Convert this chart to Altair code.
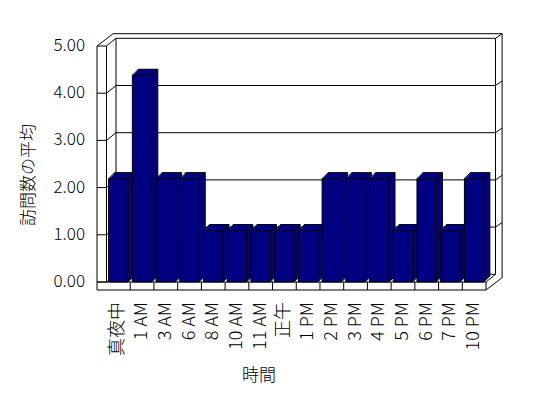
import altair as alt
import pandas as pd

# ---------------- data ----------------
categories = ["真夜中", "1 AM", "3 AM", "6 AM", "8 AM", "10 AM", "11 AM", "正午",
              "1 PM", "2 PM", "3 PM", "4 PM", "5 PM", "6 PM", "7 PM", "10 PM"]
values = [2.19, 4.38, 2.19, 2.19, 1.09, 1.09, 1.09, 1.09,
          1.09, 2.19, 2.19, 2.19, 1.09, 2.19, 1.09, 2.19]
y_ticks = [0, 1, 2, 3, 4, 5]
x_title = "時間"
y_title = "訪問数の平均"

# ---------------- layout / style ----------------
W, H = 389, 236
FONT = "Noto Sans CJK JP"
FW = 300
NAVY = "#000080"
LW = 9.5            # left wall thickness (px)
DX, DY = 9.5, -7.7  # depth: front -> back wall inner face
TX, TY = 6.6, -4.6  # back wall thickness
FT = 8              # floor thickness
BDX, BDY = 6, -6    # bar depth
HALF = 0.41         # half bar width in slot units
FR = W
RI = FR + DX
RO = RI + TX

step = (W - LW) / len(categories)
x_lo = -LW / step - 0.5
x_hi = (W - LW) / step - 0.5
xscale = alt.Scale(domain=[x_lo, x_hi], nice=False, zero=False)
yscale = alt.Scale(domain=[0, 5], nice=False)

df = pd.DataFrame({"idx": list(range(len(categories))), "cat": categories, "value": values})
ticks_df = pd.DataFrame({"t": y_ticks})

base = alt.Chart(df).transform_calculate(
    x0=f"datum.idx - {HALF}", x1=f"datum.idx + {HALF}", zero="0"
)

# ---------------- frame (chart chrome) ----------------
Y0 = H
segs = [
    (0, 0, 0, Y0 + FT),
    (LW, 0, LW, Y0),
    (0, 0, DX + TX, DY + TY),
    (DX + TX, DY + TY, RO, DY + TY),
    (LW + DX, DY, LW + DX, Y0 + DY),
    (RI, DY, RI, Y0 + DY),
    (RO, DY + TY, RO, Y0 + FT + DY + TY),
    (0, Y0, FR, Y0),
    (0, Y0 + FT, FR, Y0 + FT),
    (FR, Y0, FR, Y0 + FT),
    (FR, Y0, FR + DX, Y0 + DY),
    (FR, Y0 + FT, RO, Y0 + FT + DY + TY),
]
frame_df = pd.DataFrame(segs, columns=["sx", "sy", "sx2", "sy2"])
frame = alt.Chart(frame_df).mark_rule(color="black", strokeWidth=1).encode(
    x=alt.X("sx:Q", scale=None, axis=None),
    y=alt.Y("sy:Q", scale=None, axis=None),
    x2="sx2:Q",
    y2="sy2:Q",
)

tk = alt.Chart(ticks_df)
left_ticks = tk.mark_rule(color="black", strokeWidth=1).encode(
    x=alt.value(0), x2=alt.value(LW),
    y=alt.Y("t:Q", scale=yscale, axis=None),
)
left_diag = tk.mark_rule(color="black", strokeWidth=1, y2Offset=DY).encode(
    x=alt.value(LW), x2=alt.value(LW + DX),
    y=alt.Y("t:Q", scale=yscale, axis=None), y2="t:Q",
)
back_grid = tk.mark_rule(color="black", strokeWidth=1, yOffset=DY).encode(
    x=alt.value(LW + DX), x2=alt.value(RI),
    y=alt.Y("t:Q", scale=yscale, axis=None),
)
right_diag = tk.transform_filter("datum.t > 0").mark_rule(
    color="black", strokeWidth=1, yOffset=DY, y2Offset=DY + TY
).encode(
    x=alt.value(RI), x2=alt.value(RO),
    y=alt.Y("t:Q", scale=yscale, axis=None), y2="t:Q",
)
dividers = base.transform_filter("datum.idx > 0").transform_calculate(
    xd="datum.idx - 0.5"
).mark_rule(color="black", strokeWidth=1).encode(
    x=alt.X("xd:Q", scale=xscale, axis=None),
    y=alt.value(Y0), y2=alt.value(Y0 + FT),
)

# ---------------- 3D bars ----------------
def bar_layer(k, stroked):
    kw = dict(color=NAVY, xOffset=k, x2Offset=k, yOffset=-k, y2Offset=-k)
    if stroked:
        kw.update(stroke="black", strokeWidth=1)
    else:
        kw.update(strokeWidth=0)
    return base.mark_rect(**kw).encode(
        x=alt.X("x0:Q", scale=xscale, axis=None),
        x2="x1:Q",
        y=alt.Y("value:Q", scale=yscale, axis=None),
        y2="zero:Q",
    )

back_layers = [bar_layer(BDX, True)] + [bar_layer(k, False) for k in range(BDX - 1, 0, -1)]

def diag(xf, yf):
    return base.mark_rule(color="black", strokeWidth=1, x2Offset=BDX, y2Offset=BDY).encode(
        x=alt.X(f"{xf}:Q", scale=xscale, axis=None), x2=f"{xf}:Q",
        y=alt.Y(f"{yf}:Q", scale=yscale, axis=None), y2=f"{yf}:Q",
    )

diags = [diag("x0", "value"), diag("x1", "value"), diag("x1", "zero")]

front = bar_layer(0, True)

# ---------------- text (labels and titles) ----------------
x_labels = base.mark_text(
    angle=270, align="right", baseline="middle", font=FONT, fontSize=18,
    fontWeight=FW, color="black"
).encode(
    x=alt.X("idx:Q", scale=xscale, axis=None),
    y=alt.value(Y0 + 20),
    text="cat:N",
)
y_labels = tk.mark_text(
    align="right", baseline="middle", font=FONT, fontSize=17, fontWeight=FW, color="black"
).encode(
    x=alt.value(-12),
    y=alt.Y("t:Q", scale=yscale, axis=None),
    text=alt.Text("t:Q", format=".2f"),
)
x_title_mark = alt.Chart(pd.DataFrame({"label": [x_title]})).mark_text(
    align="center", baseline="middle", font=FONT, fontSize=17, fontWeight=FW, color="black"
).encode(x=alt.value(162), y=alt.value(Y0 + 94), text="label:N")
y_title_mark = alt.Chart(pd.DataFrame({"label": [y_title]})).mark_text(
    angle=270, align="center", baseline="middle", font=FONT, fontSize=17,
    fontWeight=FW, color="black"
).encode(x=alt.value(-68), y=alt.value(129), text="label:N")

chart = alt.layer(
    frame, left_ticks, left_diag, back_grid, right_diag, dividers,
    *back_layers, *diags, front,
    x_labels, y_labels, x_title_mark, y_title_mark,
).properties(
    width=W, height=H,
    autosize=alt.AutoSizeParams(type="none"),
    padding={"left": 97, "top": 46, "right": 548 - 97 - W, "bottom": 398 - 46 - H},
    background="white",
).configure_view(stroke=None)

chart.save("out.html", embed_options={"renderer": "svg", "actions": False})
